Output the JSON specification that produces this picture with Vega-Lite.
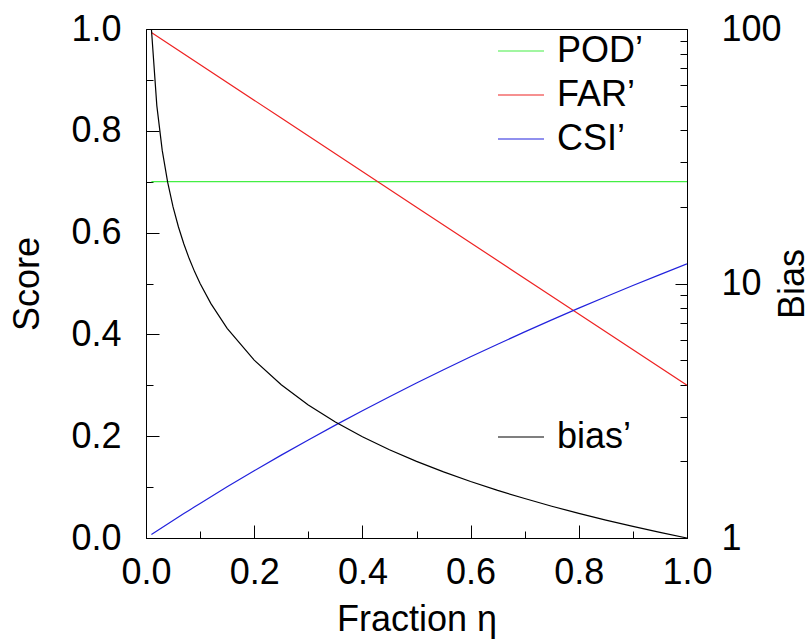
{
  "$schema": "https://vega.github.io/schema/vega-lite/v6.json",
  "width": 541,
  "height": 509,
  "autosize": "none",
  "padding": {"left": 146, "top": 29, "right": 125, "bottom": 101},
  "background": "white",
  "config": {
    "font": "Liberation Sans",
    "view": {"stroke": "black", "strokeWidth": 1},
    "axis": {"grid": false, "domainColor": "black", "tickColor": "black", "labelColor": "black", "titleColor": "black", "labelFont": "Liberation Sans", "titleFont": "Liberation Sans", "labelFontSize": 36, "titleFontSize": 36, "titleFontWeight": "normal", "tickWidth": 1, "domainWidth": 1},
    "legend": {"labelFont": "Liberation Sans", "labelFontSize": 36, "labelColor": "black"}
  },
  "datasets": {
    "scores": [
      {"eta": 0.01, "series": "POD’", "value": 0.7},
      {"eta": 0.25, "series": "POD’", "value": 0.7},
      {"eta": 0.5, "series": "POD’", "value": 0.7},
      {"eta": 0.75, "series": "POD’", "value": 0.7},
      {"eta": 1.0, "series": "POD’", "value": 0.7},
      {"eta": 0.01, "series": "FAR’", "value": 0.993},
      {"eta": 0.25, "series": "FAR’", "value": 0.825},
      {"eta": 0.5, "series": "FAR’", "value": 0.65},
      {"eta": 0.75, "series": "FAR’", "value": 0.475},
      {"eta": 1.0, "series": "FAR’", "value": 0.3},
      {"eta": 0.01, "series": "CSI’", "value": 0.00698},
      {"eta": 0.02, "series": "CSI’", "value": 0.01392},
      {"eta": 0.03, "series": "CSI’", "value": 0.02081},
      {"eta": 0.04, "series": "CSI’", "value": 0.02767},
      {"eta": 0.05, "series": "CSI’", "value": 0.03448},
      {"eta": 0.06, "series": "CSI’", "value": 0.04126},
      {"eta": 0.07, "series": "CSI’", "value": 0.04799},
      {"eta": 0.08, "series": "CSI’", "value": 0.05469},
      {"eta": 0.09, "series": "CSI’", "value": 0.06134},
      {"eta": 0.10, "series": "CSI’", "value": 0.06796},
      {"eta": 0.15, "series": "CSI’", "value": 0.10048},
      {"eta": 0.20, "series": "CSI’", "value": 0.13208},
      {"eta": 0.25, "series": "CSI’", "value": 0.16279},
      {"eta": 0.30, "series": "CSI’", "value": 0.19266},
      {"eta": 0.35, "series": "CSI’", "value": 0.22172},
      {"eta": 0.40, "series": "CSI’", "value": 0.25},
      {"eta": 0.45, "series": "CSI’", "value": 0.27753},
      {"eta": 0.50, "series": "CSI’", "value": 0.30435},
      {"eta": 0.55, "series": "CSI’", "value": 0.33047},
      {"eta": 0.60, "series": "CSI’", "value": 0.35593},
      {"eta": 0.65, "series": "CSI’", "value": 0.38075},
      {"eta": 0.70, "series": "CSI’", "value": 0.40496},
      {"eta": 0.75, "series": "CSI’", "value": 0.42857},
      {"eta": 0.80, "series": "CSI’", "value": 0.45161},
      {"eta": 0.85, "series": "CSI’", "value": 0.4741},
      {"eta": 0.90, "series": "CSI’", "value": 0.49606},
      {"eta": 0.95, "series": "CSI’", "value": 0.51751},
      {"eta": 1.00, "series": "CSI’", "value": 0.53846}
    ],
    "bias": [
      {"eta": 0.01, "series": "bias’", "bias": 100},
      {"eta": 0.02, "series": "bias’", "bias": 50},
      {"eta": 0.03, "series": "bias’", "bias": 33.33},
      {"eta": 0.04, "series": "bias’", "bias": 25},
      {"eta": 0.05, "series": "bias’", "bias": 20},
      {"eta": 0.06, "series": "bias’", "bias": 16.67},
      {"eta": 0.07, "series": "bias’", "bias": 14.29},
      {"eta": 0.08, "series": "bias’", "bias": 12.5},
      {"eta": 0.09, "series": "bias’", "bias": 11.11},
      {"eta": 0.10, "series": "bias’", "bias": 10},
      {"eta": 0.12, "series": "bias’", "bias": 8.333},
      {"eta": 0.15, "series": "bias’", "bias": 6.667},
      {"eta": 0.20, "series": "bias’", "bias": 5},
      {"eta": 0.25, "series": "bias’", "bias": 4},
      {"eta": 0.30, "series": "bias’", "bias": 3.333},
      {"eta": 0.35, "series": "bias’", "bias": 2.857},
      {"eta": 0.40, "series": "bias’", "bias": 2.5},
      {"eta": 0.45, "series": "bias’", "bias": 2.222},
      {"eta": 0.50, "series": "bias’", "bias": 2},
      {"eta": 0.55, "series": "bias’", "bias": 1.818},
      {"eta": 0.60, "series": "bias’", "bias": 1.667},
      {"eta": 0.65, "series": "bias’", "bias": 1.538},
      {"eta": 0.70, "series": "bias’", "bias": 1.429},
      {"eta": 0.75, "series": "bias’", "bias": 1.333},
      {"eta": 0.80, "series": "bias’", "bias": 1.25},
      {"eta": 0.85, "series": "bias’", "bias": 1.176},
      {"eta": 0.90, "series": "bias’", "bias": 1.111},
      {"eta": 0.95, "series": "bias’", "bias": 1.053},
      {"eta": 1.00, "series": "bias’", "bias": 1}
    ]
  },
  "layer": [
    {
      "data": {"name": "scores"},
      "mark": {"type": "line", "strokeWidth": 1.2, "clip": true},
      "encoding": {
        "x": {"field": "eta", "type": "quantitative", "scale": {"domain": [0, 1], "nice": false, "zero": false},
          "axis": {"orient": "bottom", "values": [0, 0.2, 0.4, 0.6, 0.8, 1.0], "format": ".1f", "tickSize": -13, "labelPadding": 30, "title": "Fraction η", "titlePadding": 12, "labelFlush": false, "labelOverlap": false}},
        "y": {"field": "value", "type": "quantitative", "scale": {"domain": [0, 1], "nice": false},
          "axis": {"orient": "left", "values": [0, 0.2, 0.4, 0.6, 0.8, 1.0], "format": ".1f", "tickSize": -13, "labelPadding": 38, "title": "Score", "titlePadding": 24, "labelFlush": false, "labelOverlap": false}},
        "color": {"field": "series", "type": "nominal",
          "scale": {"domain": ["POD’", "FAR’", "CSI’"], "range": ["#44ee44", "#ee2222", "#2222dd"]},
          "legend": {"title": null, "orient": "none", "legendX": 351, "legendY": -2, "symbolType": "stroke", "symbolSize": 2116, "symbolStrokeWidth": 1.2, "labelOffset": 12, "rowPadding": 2, "padding": 0, "labelBaseline": "middle"}}
      }
    },
    {
      "data": {"name": "bias"},
      "mark": {"type": "line", "strokeWidth": 1.2, "clip": true},
      "encoding": {
        "x": {"field": "eta", "type": "quantitative", "scale": {"domain": [0, 1], "nice": false, "zero": false}, "axis": null},
        "y": {"field": "bias", "type": "quantitative", "scale": {"type": "log", "domain": [1, 100], "nice": false},
          "axis": {"orient": "right", "values": [1, 10, 100], "format": "d", "tickSize": -12, "labelPadding": 46, "title": "Bias", "titleAngle": -90, "titleBaseline": "top", "titlePadding": -6, "labelFlush": false, "labelOverlap": false}},
        "color": {"field": "series", "type": "nominal",
          "scale": {"domain": ["bias’"], "range": ["black"]},
          "legend": {"title": null, "orient": "none", "legendX": 351, "legendY": 384, "symbolType": "stroke", "symbolSize": 2116, "symbolStrokeWidth": 1.2, "labelOffset": 12, "padding": 0, "labelBaseline": "middle"}}
      }
    },
    {
      "data": {"name": "scores"},
      "mark": {"type": "line", "opacity": 0},
      "encoding": {
        "x": {"field": "eta", "type": "quantitative", "scale": {"domain": [0, 1], "nice": false, "zero": false},
          "axis": {"orient": "bottom", "values": [0.1, 0.3, 0.5, 0.7, 0.9], "labels": false, "domain": false, "tickSize": -7, "title": null}},
        "y": {"field": "value", "type": "quantitative", "scale": {"domain": [0, 1], "nice": false},
          "axis": {"orient": "left", "values": [0.1, 0.3, 0.5, 0.7, 0.9], "labels": false, "domain": false, "tickSize": -7, "title": null}}
      }
    },
    {
      "data": {"name": "bias"},
      "mark": {"type": "line", "opacity": 0},
      "encoding": {
        "x": {"field": "eta", "type": "quantitative", "scale": {"domain": [0, 1], "nice": false, "zero": false}, "axis": null},
        "y": {"field": "bias", "type": "quantitative", "scale": {"type": "log", "domain": [1, 100], "nice": false},
          "axis": {"orient": "right", "values": [2, 3, 4, 5, 6, 7, 8, 9, 20, 30, 40, 50, 60, 70, 80, 90], "labels": false, "domain": false, "tickSize": -7, "title": null}}
      }
    }
  ],
  "resolve": {
    "scale": {"y": "independent", "color": "independent"},
    "axis": {"x": "independent", "y": "independent"}
  }
}
